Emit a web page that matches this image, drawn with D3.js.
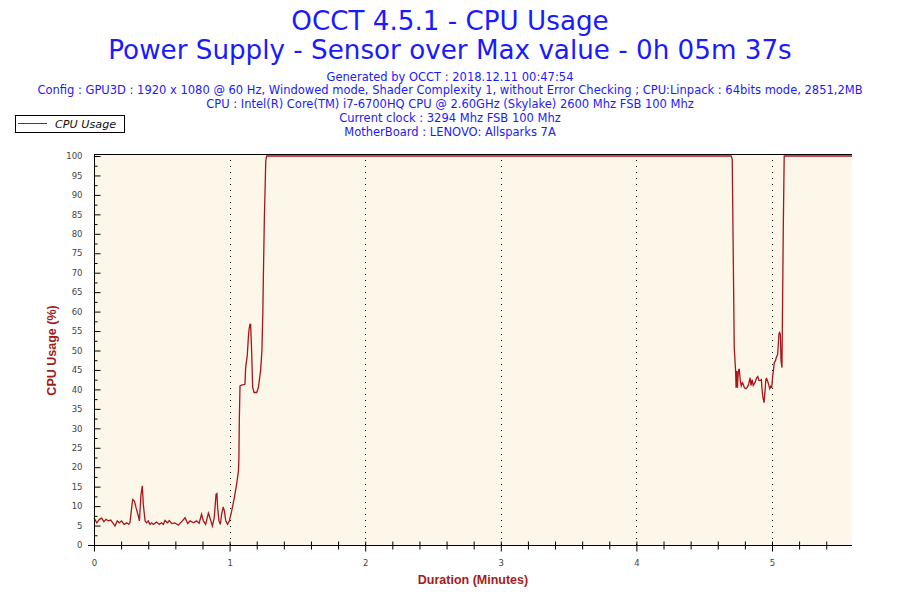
<!DOCTYPE html>
<html>
<head>
<meta charset="utf-8">
<script src="https://cdn.jsdelivr.net/npm/d3@7"></script>
<style>
  body { margin: 0; background: #fff; }
</style>
</head>
<body>
<div id="chart"></div>
<script>
const width = 900,
    height = 600

const titleLines = [
  'OCCT 4.5.1 - CPU Usage',
  'Power Supply - Sensor over Max value - 0h 05m 37s'
]
const infoLines = [
  'Generated by OCCT : 2018.12.11 00:47:54',
  'Config : GPU3D : 1920 x 1080 @ 60 Hz, Windowed mode, Shader Complexity 1, without Error Checking ; CPU:Linpack : 64bits mode, 2851,2MB',
  'CPU : Intel(R) Core(TM) i7-6700HQ CPU @ 2.60GHz (Skylake) 2600 Mhz FSB 100 Mhz',
  'Current clock : 3294 Mhz FSB 100 Mhz',
  'MotherBoard : LENOVO: Allsparks 7A'
]
const seriesName = 'CPU Usage'

// sample time in seconds
const seconds = [
  0, 1.2, 2.4, 3.4, 4.4, 5.3, 6.3, 7.4, 8.3, 9.3, 10.3, 11.2, 12.2, 13.3, 14.5, 15.3, 15.9,
  17.1, 17.9, 18.6, 19.6, 20.1, 20.8, 21.4, 21.8, 22.6, 23.3, 24.0, 24.8, 25.5, 26.3, 27.7,
  28.9, 29.9, 30.7, 31.4, 32.5, 33.3, 34.4, 35.8, 37.3, 39.1, 40.3, 41.5, 42.5, 44.0, 45.4,
  46.5, 47.6, 48.4, 49.4, 50.6, 51.3, 52.4, 53.2, 54.0, 54.4, 54.7, 55.3, 55.9, 56.5, 57.2,
  57.7, 58.3, 59.1, 59.9, 60.9, 62.1, 63.1, 63.9, 64.1, 64.3, 64.6, 65.3, 66.8, 67.1, 67.8,
  68.3, 68.6, 69.0, 69.3, 69.8, 70.2, 70.8, 72.0, 72.7, 73.7, 74.3, 74.7, 75.0, 75.4, 76.0,
  76.4, 281.9, 282.4, 282.9, 283.3, 283.9, 284.1, 284.4, 284.7, 285.1, 285.5, 286.0, 286.4,
  286.9, 287.3, 287.8, 288.5, 289.1, 289.7, 290.3, 290.7, 291.2, 291.7, 292.5, 293.2, 293.7,
  294.2, 294.8, 295.3, 295.6, 296.0, 296.5, 296.9, 297.3, 297.6, 298.1, 298.5, 299.0, 299.4,
  299.9, 300.3, 300.6, 301.0, 301.5, 301.9, 302.5, 302.8, 303.1, 303.4, 303.7, 304.0, 304.4,
  304.6, 305.0, 305.4, 335.4
]
// CPU usage in %
const cpuUsage = [
  7.0, 5.7, 6.6, 6.9, 6.0, 6.6, 6.2, 6.4, 5.7, 4.9, 6.2, 5.7, 6.2, 5.3, 5.7, 5.3, 5.7,
  11.7, 11.3, 9.6, 7.5, 6.2, 13.0, 15.2, 10.5, 6.2, 5.7, 6.2, 5.3, 5.7, 5.3, 5.9,
  5.3, 5.7, 5.3, 6.3, 5.7, 6.3, 5.5, 5.7, 5.1, 6.2, 7.0, 5.5, 6.2, 5.7, 6.2,
  5.6, 7.9, 6.2, 5.3, 8.2, 7.0, 4.9, 7.0, 13.0, 13.2, 9.6, 6.2, 5.3, 8.0, 9.8,
  8.7, 6.2, 5.3, 6.2, 8.7, 12.2, 15.6, 19.0, 22.0, 31.9, 40.9, 41.1, 41.3, 45.6, 48.6,
  53.3, 55.4, 56.7, 56.7, 49.0, 40.6, 39.2, 39.2, 40.4, 44.7, 50.0, 59.7, 70.9, 84.6, 98.7,
  100, 100, 99.2, 72.2, 50.7, 44.7, 40.4, 44.7, 40.4, 44.7, 45.3, 42.2, 40.9,
  41.7, 41.3, 40.4, 40.2, 40.6, 41.4, 43.0, 41.0, 42.5, 41.0, 41.8, 43.0, 43.3,
  42.3, 42.3, 42.5, 40.0, 37.9, 36.6, 39.5, 42.6, 42.8, 42.1, 41.3, 40.2, 40.8,
  40.6, 43.4, 44.7, 46.9, 47.3, 48.2, 49.0, 51.6, 54.3, 54.6, 54.1, 47.3, 45.6,
  57.1, 81.7, 100, 100
]

const xTicks = [0, 1, 2, 3, 4, 5]
const yTicks = d3.range(0, 101, 5)

const plot = { left: 94, right: 852, top: 156, bottom: 545 }
const lineColor = '#a8151b',
    titleRed = '#a31c1c',
    blue = '#1a1aff',
    tickGrey = '#444'

const svg = d3.select('#chart')
  .append('svg')
    .attr('width', width)
    .attr('height', height)
    .style('font-family', '"DejaVu Sans", Verdana, sans-serif')

svg.append('rect')
  .attr('width', width).attr('height', height).attr('fill', '#fff')

// titles
svg.selectAll('text.title')
  .data(titleLines)
  .join('text')
  .attr('class', 'title')
  .attr('x', width / 2)
  .attr('y', (d, i) => 29.5 + i * 29)
  .attr('text-anchor', 'middle')
  .attr('fill', blue)
  .style('font-size', '26.2px')
  .text(d => d)

svg.selectAll('text.info')
  .data(infoLines)
  .join('text')
  .attr('class', 'info')
  .attr('x', width / 2)
  .attr('y', (d, i) => 80.5 + i * 13.9)
  .attr('text-anchor', 'middle')
  .attr('fill', blue)
  .style('font-size', '11.5px')
  .text(d => d)

const x = d3.scaleLinear()
  .domain([0, 5.59])
  .range([plot.left, plot.right])

const y = d3.scaleLinear()
  .domain([0, 100])
  .range([plot.bottom, plot.top])

// plot background
svg.append('rect')
  .attr('x', plot.left)
  .attr('y', plot.top - 2)
  .attr('width', plot.right - plot.left)
  .attr('height', plot.bottom - plot.top + 2)
  .attr('fill', '#fdf7e9')

// dotted grid at the whole minutes
svg.append('g')
  .selectAll('line')
  .data(xTicks.slice(1))
  .join('line')
  .attr('x1', d => Math.round(x(d)) + 0.5)
  .attr('x2', d => Math.round(x(d)) + 0.5)
  .attr('y1', plot.top - 2)
  .attr('y2', plot.bottom)
  .attr('stroke', '#000')
  .attr('stroke-dasharray', '1,5')

// top frame line
svg.append('line')
  .attr('x1', plot.left).attr('x2', plot.right)
  .attr('y1', plot.top - 1.5).attr('y2', plot.top - 1.5)
  .attr('stroke', '#000')

// the series
const line = d3.line()
  .x((d, i) => x(seconds[i] / 60))
  .y(d => y(d))

svg.append('path')
  .datum(cpuUsage)
  .attr('d', line)
  .attr('fill', 'none')
  .attr('stroke', lineColor)
  .attr('stroke-width', 1.3)

// x axis
const xAxis = svg.append('g')
  .attr('transform', `translate(0, ${plot.bottom + 0.5})`)
  .call(d3.axisBottom(x).tickValues(xTicks).tickSize(6).tickPadding(8).tickFormat(d3.format('d')))
xAxis.select('.domain').attr('d', `M${plot.left - 6},0H${plot.right}`)
xAxis.selectAll('.tick line').attr('y1', -4)
xAxis.selectAll('.tick text')
  .attr('fill', tickGrey)
  .style('font-size', '8.5px')
  .style('font-family', '"DejaVu Sans", Verdana, sans-serif')

svg.append('g')
  .attr('transform', `translate(0, ${plot.bottom + 0.5})`)
  .call(d3.axisBottom(x).tickValues(d3.range(0, 5.6, 0.2).filter(v => Math.abs(v - Math.round(v)) > 0.01)).tickSize(4).tickFormat(''))
  .call(g => g.select('.domain').remove())
  .call(g => g.selectAll('.tick line').attr('y1', -4))

// y axis
const yAxis = svg.append('g')
  .attr('transform', `translate(${plot.left + 0.5}, 0)`)
  .call(d3.axisLeft(y).tickValues(yTicks).tickSize(6).tickPadding(6))
yAxis.select('.domain').attr('d', `M0,${plot.bottom}V${plot.top - 2}`)
yAxis.selectAll('.tick line').attr('x2', 6)
yAxis.selectAll('.tick text')
  .attr('fill', tickGrey)
  .style('font-size', '8.5px')
  .style('font-family', '"DejaVu Sans", Verdana, sans-serif')

svg.append('g')
  .attr('transform', `translate(${plot.left + 0.5}, 0)`)
  .call(d3.axisLeft(y).tickValues(yTicks.slice(0, -1).map(v => v + 2.5)).tickSize(3).tickFormat(''))
  .call(g => g.select('.domain').remove())
  .call(g => g.selectAll('.tick line').attr('x2', 3))

// axis titles
svg.append('text')
  .attr('x', (plot.left + plot.right) / 2)
  .attr('y', 583.5)
  .attr('text-anchor', 'middle')
  .attr('fill', titleRed)
  .style('font-family', '"Liberation Sans", Arial, sans-serif')
  .style('font-weight', 'bold')
  .style('font-size', '12.5px')
  .text('Duration (Minutes)')

svg.append('text')
  .attr('transform', `translate(55.5, ${(plot.top + plot.bottom) / 2}) rotate(-90)`)
  .attr('text-anchor', 'middle')
  .attr('fill', titleRed)
  .style('font-family', '"Liberation Sans", Arial, sans-serif')
  .style('font-weight', 'bold')
  .style('font-size', '12.5px')
  .text('CPU Usage (%)')

// legend
const legend = svg.append('g')
legend.append('rect')
  .attr('x', 15.5).attr('y', 115.5)
  .attr('width', 109).attr('height', 17)
  .attr('fill', '#fff')
  .attr('stroke', '#000')
legend.append('line')
  .attr('x1', 18).attr('x2', 47)
  .attr('y1', 123.5).attr('y2', 123.5)
  .attr('stroke', lineColor)
legend.append('text')
  .attr('x', 55).attr('y', 127.5)
  .attr('fill', '#111')
  .style('font-size', '11.2px')
  .style('font-style', 'italic')
  .text(seriesName)
</script>
</body>
</html>
